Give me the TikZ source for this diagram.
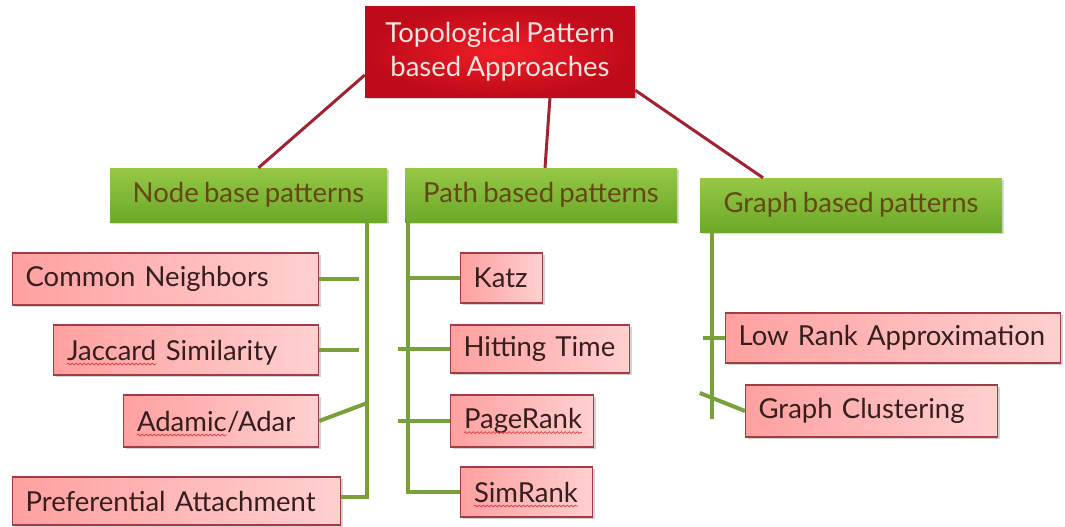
\documentclass[tikz,border=0pt]{standalone}
\usepackage{fontspec}
\setmainfont{Lato}[WordSpace=0.75]
\usetikzlibrary{shadows,decorations.pathmorphing}

\definecolor{rootA}{RGB}{240,30,40}
\definecolor{rootB}{RGB}{190,10,25}
\definecolor{roottext}{RGB}{250,228,222}
\definecolor{greenA}{RGB}{150,200,70}
\definecolor{greenB}{RGB}{108,168,40}
\definecolor{greentext}{RGB}{100,72,20}
\definecolor{pinkA}{RGB}{255,160,160}
\definecolor{pinkB}{RGB}{255,208,208}
\definecolor{pinkedge}{RGB}{160,60,70}
\definecolor{boxtext}{RGB}{55,30,30}
\definecolor{gline}{RGB}{122,160,58}
\definecolor{rline}{RGB}{160,35,50}
\definecolor{squigcol}{RGB}{215,70,70}

% wavy spell-check underline under a word
\newcommand\wavyword[1]{\tikz[baseline=(ww.base)]{%
  \node[inner sep=0pt,outer sep=0pt,anchor=base west] (ww) at (0,0) {#1};
  \draw[squigcol,line width=0.8pt,decorate,decoration={snake,amplitude=0.9pt,segment length=4pt}]
    ([yshift=-4pt]ww.base west) -- ([yshift=-4pt]ww.base east);}}

\begin{document}
\begin{tikzpicture}[x=1pt,y=-1pt,
  font=\fontsize{27.5}{34}\selectfont,
  rootbox/.style={inner color=rootA, outer color=rootB, text=roottext,
    minimum width=270pt, minimum height=90pt, align=center, inner sep=0pt,
    drop shadow={opacity=0.3,shadow xshift=2pt,shadow yshift=-2pt}},
  greenbox/.style={top color=greenA, bottom color=greenB, text=greentext,
    minimum height=54pt, inner sep=0pt,
    drop shadow={opacity=0.3,shadow xshift=2pt,shadow yshift=-2pt}},
  redbox/.style n args={2}{draw=pinkedge, line width=1.2pt, left color=pinkA,
    right color=pinkB, text=boxtext, inner xsep=13pt, inner ysep=0pt,
    align=left, anchor=west, text width=#1, minimum height=#2,
    drop shadow={opacity=0.35,shadow xshift=2pt,shadow yshift=-2pt}},
  greenline/.style={gline, line width=4pt},
  redline/.style={rline, line width=3pt}]

\useasboundingbox (0,0) rectangle (1065,527);

% top level
\node[rootbox] (root) at (500,52) {Topological Pattern\\based Approaches};

% pattern families
\node[greenbox, minimum width=277pt] (nb) at (248.5,195) {Node base patterns};
\node[greenbox, minimum width=272pt] (pb) at (541,195) {Path based patterns};
\node[greenbox, minimum width=302pt] (gb) at (851,205) {Graph based patterns};

% node based
\node[redbox={280pt}{52pt}] (cn) at (12,279) {Common Neighbors};
\node[redbox={239pt}{50pt}] (js) at (53,350) {\wavyword{Jaccard} Similarity};
\node[redbox={169pt}{52pt}] (aa) at (123,421) {\wavyword{Adamic}/Adar};
\node[redbox={302pt}{48pt}] (pa) at (12,501) {Preferential Attachment};

% path based
\node[redbox={56pt}{50pt}] (katz) at (460,278) {Katz};
\node[redbox={153pt}{48pt}] (ht) at (450,349) {Hitting Time};
\node[redbox={117pt}{52pt}] (pr) at (450,421) {\wavyword{PageRank}};
\node[redbox={106pt}{50pt}] (sr) at (460,492) {\wavyword{SimRank}};

% graph based
\node[redbox={309pt}{50pt}] (lr) at (725,338) {Low Rank Approximation};
\node[redbox={226pt}{52pt}] (gc) at (745,411) {Graph Clustering};

% root to families
\draw[redline] ([yshift=-23pt]root.west) -- ([xshift=10pt]nb.north);
\draw[redline] ([xshift=50pt]root.south) -- ([xshift=4pt]pb.north);
\draw[redline] ([yshift=7pt]root.south east) -- ([xshift=-88pt]gb.north);

% node based tree
\coordinate (nbt) at ([xshift=-20pt]nb.south east);
\draw[greenline] (nbt) -- ([yshift=4pt]nbt |- pa.east) -- ([yshift=4pt]pa.east);
\draw[greenline] (cn.east) -- ([xshift=-8pt]cn.east -| nbt);
\draw[greenline] (js.east) -- ([xshift=-8pt]js.east -| nbt);
\draw[greenline] (aa.east) -- ([yshift=18pt]aa.east -| nbt);

% path based tree
\coordinate (pbt) at ([xshift=3pt]pb.south west);
\draw[greenline] (pbt) -- (pbt |- sr.west) -- (sr.west);
\draw[greenline] (katz.west) -- (katz.west -| pbt);
\draw[greenline] (ht.west) -- ([xshift=-10pt]ht.west -| pbt);
\draw[greenline] (pr.west) -- ([xshift=-10pt]pr.west -| pbt);

% graph based tree
\coordinate (gbt) at ([xshift=12pt]gb.south west);
\draw[greenline] (gbt) -- ([yshift=-8pt]gbt |- gc.west);
\draw[greenline] (lr.west) -- ([xshift=-9pt]lr.west -| gbt);
\draw[greenline] (gc.west) -- ([xshift=-12pt,yshift=18pt]gc.west -| gbt);
\end{tikzpicture}
\end{document}
